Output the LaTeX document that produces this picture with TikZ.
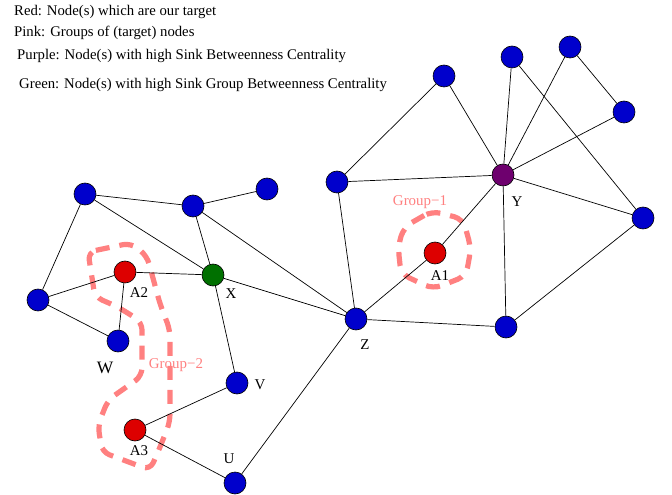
\documentclass[tikz,border=0pt]{standalone}
\usepackage{fontspec}
\setmainfont{Liberation Serif}
\definecolor{vblue}{RGB}{0,0,204}
\definecolor{vred}{RGB}{221,0,0}
\definecolor{vgreen}{RGB}{0,112,0}
\definecolor{vpurple}{RGB}{110,0,110}
\definecolor{grppink}{RGB}{255,128,128}
\begin{document}
\begin{tikzpicture}[x=1bp,y=-1bp,
  vtx/.style={circle, draw=black, line width=0.6bp, minimum size=22bp, inner sep=0pt},
  bluev/.style={vtx, fill=vblue},
  redv/.style={vtx, fill=vred},
  greenv/.style={vtx, fill=vgreen},
  purplev/.style={vtx, fill=vpurple},
  edge/.style={draw=black, line width=0.7bp},
  lbl/.style={font=\fontsize{15}{17}\selectfont, inner sep=0pt},
  biglbl/.style={font=\fontsize{17.5}{19}\selectfont, inner sep=0pt},
  legend/.style={font=\fontsize{14.8}{17}\selectfont, anchor=west, inner sep=0pt},
  grp/.style={draw=grppink, line width=5.2bp, dash pattern=on 14bp off 10bp},
  grplbl/.style={lbl, text=grppink}]
\useasboundingbox (0,0) rectangle (672,495);
% legend
\node[legend] (leg1) at (14,12) {Red: Node(s) which are our target};
\node[legend] (leg2) at (14,33) {Pink: Groups of (target) nodes};
\node[legend] (leg3) at (17,56) {Purple: Node(s) with high Sink Betweenness Centrality};
\node[legend] (leg4) at (19,85) {Green: Node(s) with high Sink Group Betweenness Centrality};
% groups
\draw[grp, rounded corners=9bp] (432,211) -- (404,227) -- (398,246) -- (401,274) -- (433,289) -- (466,276) -- (471,248) -- (463,219) -- cycle;
\draw[grp, rounded corners=8bp] (88,252) -- (131,243) -- (147,256) -- (160,304) -- (170,330) -- (170,422) -- (158,452) -- (150,470) -- (102,452) -- (98,425) -- (108,400) -- (142,376) -- (142,322) -- (118,307) -- (95,297) -- cycle;
% vertices
\node[bluev] (n1) at (85,194) {};
\node[bluev] (n2) at (193,206) {};
\node[bluev] (n3) at (267,189) {};
\node[redv] (A2) at (125,272) {};
\node[greenv] (X) at (213,275) {};
\node[bluev] (L) at (38,300) {};
\node[bluev] (W) at (118,341) {};
\node[bluev] (V) at (237,383) {};
\node[redv] (A3) at (135,430) {};
\node[bluev] (U) at (235,483) {};
\node[bluev] (Z) at (356,319) {};
\node[redv] (A1) at (435,253) {};
\node[purplev] (Y) at (503,175) {};
\node[bluev] (n4) at (337,182) {};
\node[bluev] (n5) at (444,76) {};
\node[bluev] (n6) at (512,57) {};
\node[bluev] (n7) at (570,47) {};
\node[bluev] (n8) at (624,112) {};
\node[bluev] (n9) at (643,218) {};
\node[bluev] (n10) at (506,327) {};
% edges
\draw[edge] (n1) -- (n2);
\draw[edge] (n1) -- (L);
\draw[edge] (n1) -- (X);
\draw[edge] (n2) -- (n3);
\draw[edge] (n2) -- (X);
\draw[edge] (n2) -- (Z);
\draw[edge] (A2) -- (L);
\draw[edge] (A2) -- (X);
\draw[edge] (A2) -- (W);
\draw[edge] (L) -- (W);
\draw[edge] (X) -- (Z);
\draw[edge] (X) -- (V);
\draw[edge] (V) -- (A3);
\draw[edge] (A3) -- (U);
\draw[edge] (U) -- (Z);
\draw[edge] (Z) -- (n4);
\draw[edge] (Z) -- (A1);
\draw[edge] (A1) -- (Y);
\draw[edge] (Z) -- (n10);
\draw[edge] (n4) -- (n5);
\draw[edge] (n4) -- (Y);
\draw[edge] (n5) -- (Y);
\draw[edge] (n6) -- (Y);
\draw[edge] (n6) -- (n9);
\draw[edge] (n7) -- (Y);
\draw[edge] (n7) -- (n8);
\draw[edge] (n8) -- (Y);
\draw[edge] (Y) -- (n9);
\draw[edge] (Y) -- (n10);
\draw[edge] (n9) -- (n10);
% labels
\node[lbl] (lA2) at (139,293) {A2};
\node[lbl] (lX) at (231,294) {X};
\node[biglbl] (lW) at (105,368) {W};
\node[lbl] (lV) at (260,385) {V};
\node[lbl] (lA3) at (139,451) {A3};
\node[lbl] (lU) at (229,459) {U};
\node[lbl] (lZ) at (365,345) {Z};
\node[lbl] (lA1) at (440,276) {A1};
\node[lbl] (lY) at (517,202) {Y};
\node[grplbl] (g1) at (420,202) {Group−1};
\node[grplbl] (g2) at (176,365) {Group−2};
\end{tikzpicture}
\end{document}
